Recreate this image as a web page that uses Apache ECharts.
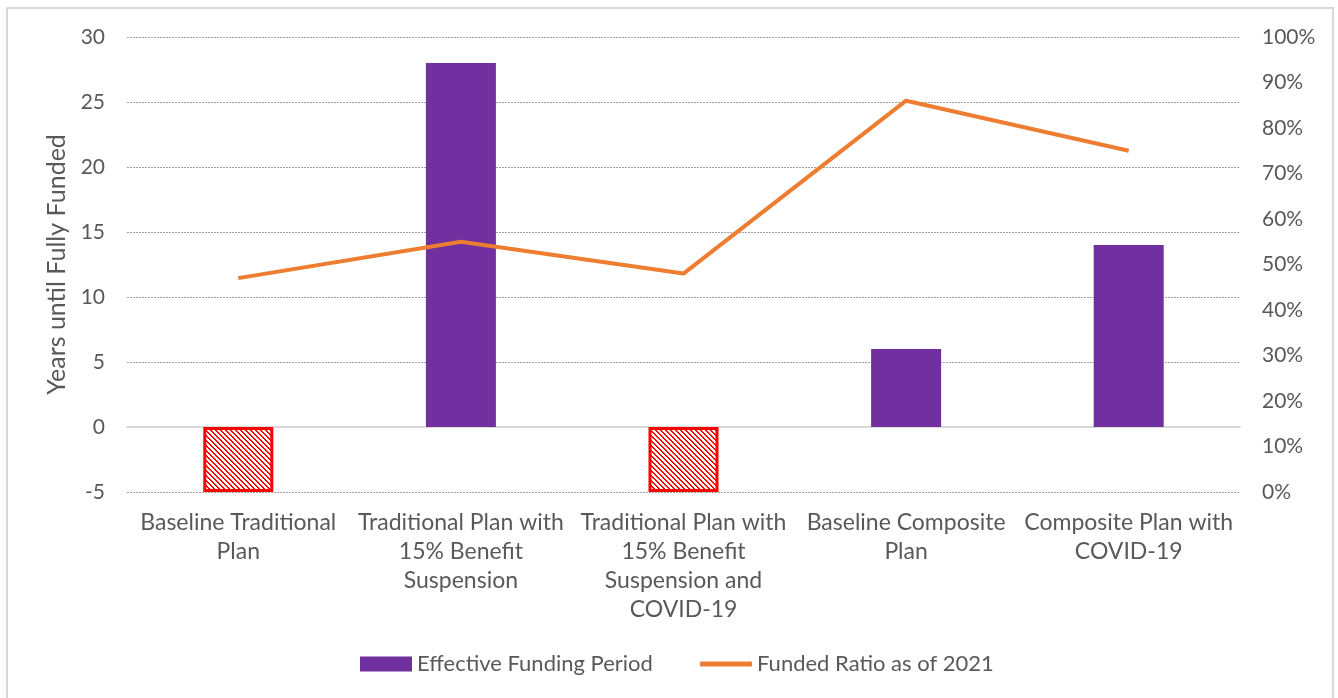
<!DOCTYPE html>
<html>
<head>
<meta charset="utf-8">
<script src="https://cdn.jsdelivr.net/npm/echarts@6/dist/echarts.min.js"></script>
<style>
html,body{margin:0;padding:0;background:#fff;}
#chart{width:1338px;height:698px;}
</style>
</head>
<body>
<div id="chart"></div>
<script>
const categories = [
  "Baseline Traditional\nPlan",
  "Traditional Plan with\n15% Benefit\nSuspension",
  "Traditional Plan with\n15% Benefit\nSuspension and\nCOVID-19",
  "Baseline Composite\nPlan",
  "Composite Plan with\nCOVID-19"
];
const fundingPeriod = [-5, 28, -5, 6, 14];
const fundedRatio = [0.47, 0.55, 0.48, 0.86, 0.75];
const leftTicks = { min: -5, max: 30, interval: 5 };
const rightTicks = { min: 0, max: 1, interval: 0.1 };

const FONT = "Lato, 'Open Sans', sans-serif";
const TXT = '#595959';

// hatch pattern
const T = 5;
const pc = document.createElement('canvas');
pc.width = T; pc.height = T;
const pctx = pc.getContext('2d');
pctx.fillStyle = '#fff'; pctx.fillRect(0,0,T,T);
pctx.fillStyle = '#ff0000';
for (let y = 0; y < T; y++) for (let x = 0; x < T; x++) {
  const d = ((x - y) % T + T) % T;
  if (d === 0 || d === 1) pctx.fillRect(x, y, 1, 1);
}

const chart = echarts.init(document.getElementById('chart'), null, {renderer: 'canvas'});
chart.setOption({
  animation: false,
  textStyle: { fontFamily: FONT },
  graphic: [{
    type: 'rect', z: -10,
    shape: { x: 7, y: 8, width: 1326, height: 700 },
    style: { fill: 'none', stroke: '#d9d9d9', lineWidth: 2 }
  }],
  grid: { left: 127, right: 98, top: 37, bottom: 206 },
  legend: [{
    left: 355, top: 648,
    itemWidth: 52, itemHeight: 15,
    textStyle: { color: TXT, fontSize: 22, fontFamily: FONT },
    data: [{ name: 'Effective Funding Period', icon: 'rect' }]
  }, {
    left: 695, top: 648,
    itemWidth: 52, itemHeight: 5,
    textStyle: { color: TXT, fontSize: 22, fontFamily: FONT },
    data: [{ name: 'Funded Ratio as of 2021', icon: 'roundRect' }]
  }],
  xAxis: {
    type: 'category', data: categories,
    axisTick: { show: false },
    axisLine: { onZero: true, lineStyle: { color: '#d9d9d9', width: 2 } },
    axisLabel: { color: TXT, fontSize: 23, lineHeight: 29, margin: 16, interval: 0, fontFamily: FONT,
      verticalAlign: 'top' },
    position: 'bottom'
  },
  yAxis: [{
    type: 'value', min: leftTicks.min, max: leftTicks.max, interval: leftTicks.interval,
    name: 'Years until Fully Funded', nameLocation: 'middle', nameGap: 56,
    nameTextStyle: { color: TXT, fontSize: 25, fontFamily: FONT },
    axisLine: { show: false }, axisTick: { show: false },
    axisLabel: { color: TXT, fontSize: 21, margin: 22, fontFamily: FONT },
    splitLine: { show: true, lineStyle: { color: '#a0a0a0', type: [2, 1], width: 1 } }
  }, {
    type: 'value', min: rightTicks.min, max: rightTicks.max, interval: rightTicks.interval,
    axisLine: { show: false }, axisTick: { show: false },
    splitLine: { show: false },
    axisLabel: { color: TXT, fontSize: 21, margin: 22, fontFamily: FONT,
      formatter: v => Math.round(v * 100) + '%' }
  }],
  series: [{
    name: 'Effective Funding Period', type: 'bar', barWidth: 70,
    itemStyle: { color: '#7030a0' },
    data: fundingPeriod.map(v => v < 0 ? {
      value: v,
      itemStyle: { color: { image: pc, repeat: 'repeat' }, borderColor: '#ff0000', borderWidth: 3 }
    } : v),
    z: 2
  }, {
    name: 'Funded Ratio as of 2021', type: 'line', yAxisIndex: 1,
    data: fundedRatio, symbol: 'none', showSymbol: false,
    lineStyle: { color: '#ed7d31', width: 4 }, itemStyle: { color: '#ed7d31' },
    z: 3
  }]
});
</script>
</body>
</html>
